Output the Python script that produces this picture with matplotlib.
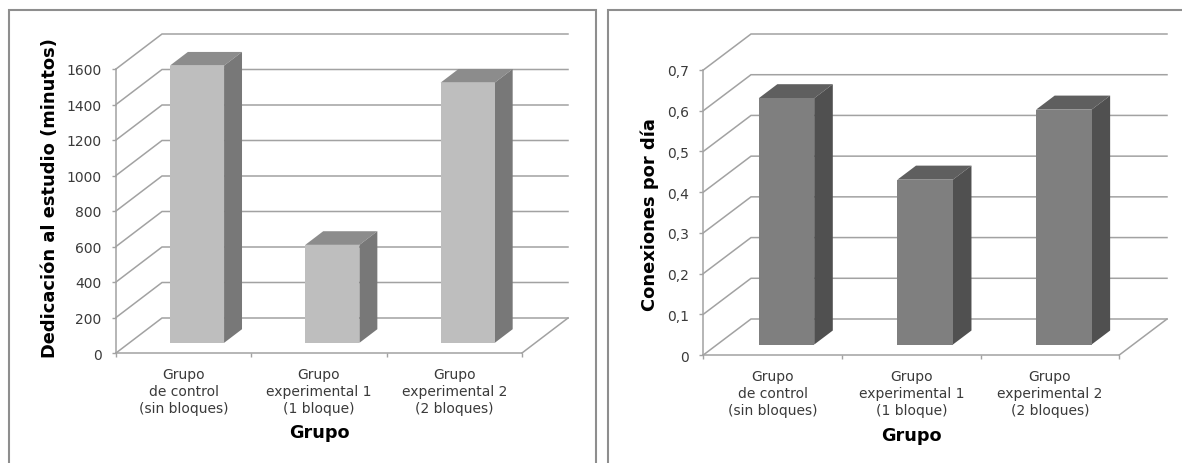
import matplotlib
matplotlib.use("Agg")
import matplotlib.pyplot as plt
from matplotlib.patches import Rectangle
from matplotlib.transforms import blended_transform_factory

categories = ["Grupo\nde control\n(sin bloques)", "Grupo\nexperimental 1\n(1 bloque)", "Grupo\nexperimental 2\n(2 bloques)"]
minutes = [1562, 552, 1466]
minutes_ticks = [0, 200, 400, 600, 800, 1000, 1200, 1400, 1600]
minutes_labels = ["0", "200", "400", "600", "800", "1000", "1200", "1400", "1600"]
connections = [0.605, 0.405, 0.577]
conn_ticks = [0, 0.1, 0.2, 0.3, 0.4, 0.5, 0.6, 0.7]
conn_labels = ["0", "0,1", "0,2", "0,3", "0,4", "0,5", "0,6", "0,7"]

W, H = 1182, 464
plt.rcParams['font.family'] = ['DejaVu Sans']
fig = plt.figure(figsize=(W / 100, H / 100), dpi=100, facecolor='white')
GRID = '#A2A2A2'
BORDER = '#8E8E8E'
TXT = '#3A3A3A'


def panel(x0, x1):
    fig.add_artist(Rectangle((x0 / W, -0.05), (x1 - x0) / W, 1.05 - 11 / H, transform=fig.transFigure,
                             fill=False, ec=BORDER, lw=1.5))


def chart(left, right, top, y0, y_top, dx_px, values, ticks, labels, ylabel, ylab_x, ylab_cy, xlab_y, colors):
    """left/right: front axis px; top: back wall top px; y0/y_top: front px of first/last tick."""
    vmax = ticks[-1]
    per_px = vmax / (y0 - y_top)
    dy = (y_top - top) * per_px
    unit = (right - left) / 3
    dx = dx_px / unit
    back_right = right + dx_px
    ax = fig.add_axes([left / W, 1 - y0 / H, (back_right - left) / W, (y0 - top) / H])
    ax.set_xlim(0, 3 + dx)
    ax.set_ylim(0, vmax + dy)
    ax.patch.set_alpha(0)
    for s in ('top', 'right'):
        ax.spines[s].set_visible(False)
    for s in ('left', 'bottom'):
        ax.spines[s].set_color(GRID)
        ax.spines[s].set_linewidth(1.1)
    ax.spines['left'].set_bounds(0, vmax)
    ax.spines['bottom'].set_bounds(0, 3)

    # walls and floor
    for v in ticks:
        ax.plot([0, dx, 3 + dx], [v, v + dy, v + dy], color=GRID, lw=1.1, zorder=1, clip_on=False,
                solid_joinstyle='miter')
    ax.plot([3 + dx, 3], [dy, 0], color=GRID, lw=1.1, zorder=1, clip_on=False)

    # 3-D bars: fractions of the depth
    d0, d1 = 0.29, 0.68
    bw = 0.40
    for i, v in enumerate(values):
        xa = i + 0.5 - bw / 2
        xb = i + 0.5 + bw / 2
        ox0, oy0 = d0 * dx, d0 * dy
        ox1, oy1 = d1 * dx, d1 * dy
        ax.fill([xa + ox0, xb + ox0, xb + ox0, xa + ox0], [oy0, oy0, v + oy0, v + oy0],
                color=colors[0], lw=0, zorder=4)
        ax.fill([xa + ox0, xb + ox0, xb + ox1, xa + ox1], [v + oy0, v + oy0, v + oy1, v + oy1],
                color=colors[1], lw=0, zorder=3)
        ax.fill([xb + ox0, xb + ox1, xb + ox1, xb + ox0], [oy0, oy1, v + oy1, v + oy0],
                color=colors[2], lw=0, zorder=3)

    ax.set_yticks(ticks)
    ax.set_yticklabels(labels, fontsize=10, color=TXT)
    ax.tick_params(axis='y', length=3, width=1.0, color=GRID, pad=7.5)
    ax.set_xticks([0, 1, 2, 3])
    ax.set_xticklabels([])
    ax.tick_params(axis='x', which='major', length=3, width=1.0, color=GRID)
    ax.set_xticks([0.5, 1.5, 2.5], minor=True)
    ax.set_xticklabels(categories, minor=True, fontsize=10, color=TXT, linespacing=1.3)
    ax.tick_params(axis='x', which='minor', length=0, pad=10)

    ax.set_ylabel(ylabel, fontsize=12.9, fontweight='bold', color='black', va='center')
    ax.yaxis.set_label_coords(ylab_x, ylab_cy,
                              transform=blended_transform_factory(fig.transFigure, ax.transData))
    ax.set_xlabel("Grupo", fontsize=12.7, fontweight='bold', color='black', va='center')
    ax.xaxis.set_label_coords(1.5, 1 - xlab_y / H,
                              transform=blended_transform_factory(ax.transData, fig.transFigure))


panel(8.5, 596)
panel(608, 1200)
chart(116, 522, 35, 354, 70, 46, minutes, minutes_ticks, minutes_labels,
      "Dedicación al estudio (minutos)", 50 / W, 1600 * (354 - 198) / 284, 433,
      ('#BEBEBE', '#8C8C8C', '#787878'))
chart(703.3, 1119.3, 35, 356, 71, 47.7, connections, conn_ticks, conn_labels,
      "Conexiones por día", 650 / W, 0.7 * (356 - 215) / 285, 436,
      ('#7F7F7F', '#5F5F5F', '#505050'))
fig.savefig("out.png", dpi=100, facecolor='white')
